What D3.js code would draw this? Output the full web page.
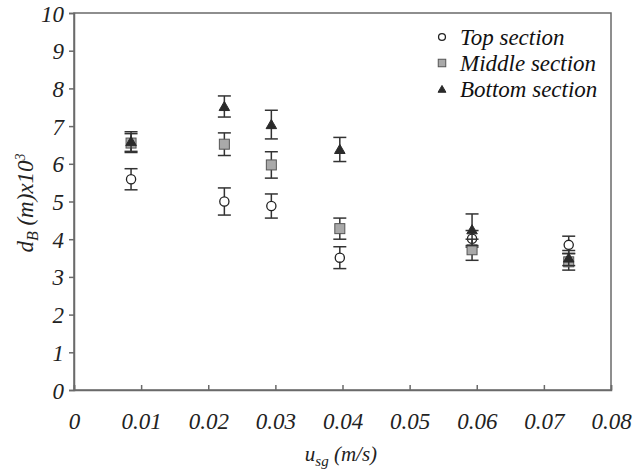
<!DOCTYPE html>
<html><head><meta charset="utf-8">
<script src="https://cdn.jsdelivr.net/npm/d3@7"></script>
<style>body{margin:0;background:#fff}svg{display:block}</style>
</head><body><svg id="c" width="634" height="472"></svg>
<script>
const xVals = [0.0085, 0.0224, 0.0294, 0.0396, 0.0593, 0.0737];
const topVals = [5.59, 5.0, 4.88, 3.51, 4.01, 3.85];
const topErr = [0.28, 0.36, 0.32, 0.29, 0.22, 0.23];
const midVals = [6.55, 6.52, 5.97, 4.28, 3.72, 3.40];
const midErr = [0.25, 0.30, 0.35, 0.28, 0.28, 0.22];
const botVals = [6.59, 7.52, 7.04, 6.38, 4.25, 3.50];
const botErr = [0.26, 0.28, 0.38, 0.32, 0.42, 0.20];
const xTicks = [0, 0.01, 0.02, 0.03, 0.04, 0.05, 0.06, 0.07, 0.08];
const xTickLabels = ["0", "0.01", "0.02", "0.03", "0.04", "0.05", "0.06", "0.07", "0.08"];
const yTicks = [0,1,2,3,4,5,6,7,8,9,10];
const seriesNames = ["Top section", "Middle section", "Bottom section"];

const svg = d3.select("#c");
const L = 74, R = 611, T = 13, B = 390;
const x = d3.scaleLinear().domain([0, 0.08]).range([L, R]);
const y = d3.scaleLinear().domain([0, 10]).range([B, T]);
const axisCol = "#6a6a6a";
const FONT = "Liberation Serif";

svg.append("rect").attr("x", L).attr("y", T).attr("width", R - L).attr("height", B - T)
  .attr("fill", "none").attr("stroke", axisCol).attr("stroke-width", 1.5);

const ya = svg.append("g").attr("transform", `translate(${L},0)`)
  .call(d3.axisLeft(y).tickValues(yTicks).tickSize(5).tickPadding(5).tickFormat(d3.format("d")));
const xa = svg.append("g").attr("transform", `translate(0,${B})`)
  .call(d3.axisBottom(x).tickValues(xTicks).tickSize(-5).tickPadding(0).tickFormat((d, i) => xTickLabels[i]));
[ya, xa].forEach(g => {
  g.attr("font-family", null).attr("font-size", null);
  g.select(".domain").attr("stroke", axisCol).attr("stroke-width", 1.5);
  g.selectAll(".tick line").attr("stroke", axisCol).attr("stroke-width", 1.5);
  g.selectAll("text").attr("font-family", FONT).attr("font-style", "italic")
    .attr("font-size", 23).attr("fill", "#222");
});
xa.selectAll("text").attr("y", 23).attr("dy", "0.71em");
ya.selectAll("text").attr("dy", "0.35em");

const xt = svg.append("text").attr("x", 341).attr("y", 461).attr("text-anchor", "middle")
  .attr("font-family", FONT).attr("font-style", "italic").attr("font-size", 21).attr("fill", "#222");
xt.append("tspan").text("u");
xt.append("tspan").text("sg").attr("font-size", 15).attr("dy", 5);
xt.append("tspan").text(" (m/s)").attr("dy", -5);

const yt = svg.append("text").attr("transform", "translate(33,203) rotate(-90)")
  .attr("text-anchor", "middle").attr("font-family", FONT).attr("font-style", "italic")
  .attr("font-size", 23).attr("fill", "#222");
yt.append("tspan").text("d");
yt.append("tspan").text("B").attr("font-size", 16).attr("dy", 5);
yt.append("tspan").text(" (m)x10").attr("dy", -5);
yt.append("tspan").text("3").attr("font-size", 14).attr("dy", -8);

const series = [
  {vals: topVals, err: topErr, shape: "circle"},
  {vals: midVals, err: midErr, shape: "square"},
  {vals: botVals, err: botErr, shape: "triangle"}
];
const cap = 6.5;
const errCol = "#333";
function drawMarker(g, shape, cx, cy, s) {
  if (shape === "circle") {
    g.append("circle").attr("cx", cx).attr("cy", cy).attr("r", 4.6 * s)
      .attr("fill", "#fff").attr("stroke", "#222").attr("stroke-width", 1.3);
  } else if (shape === "square") {
    const h = 5 * s;
    g.append("rect").attr("x", cx - h).attr("y", cy - h).attr("width", 2 * h).attr("height", 2 * h)
      .attr("fill", "#a9a9a9").attr("stroke", "#555").attr("stroke-width", 1);
  } else {
    g.append("path").attr("d", d3.symbol(d3.symbolTriangle, 48 * s * s)()).attr("transform", `translate(${cx},${cy + 1})`)
      .attr("fill", "#2a2a2a").attr("stroke", "#2a2a2a").attr("stroke-width", 1);
  }
}
series.forEach(s => {
  const g = svg.append("g");
  xVals.forEach((xv, i) => {
    const cx = x(xv), v = s.vals[i], e = s.err[i];
    g.append("line").attr("x1", cx).attr("x2", cx).attr("y1", y(v + e)).attr("y2", y(v - e))
      .attr("stroke", errCol).attr("stroke-width", 1.5);
    [v + e, v - e].forEach(w => g.append("line").attr("x1", cx - cap).attr("x2", cx + cap)
      .attr("y1", y(w)).attr("y2", y(w)).attr("stroke", errCol).attr("stroke-width", 1.5));
    drawMarker(g, s.shape, cx, y(v), 1);
  });
});

const leg = svg.append("g");
seriesNames.forEach((n, i) => {
  const ly = 37 + i * 26;
  drawMarker(leg, series[i].shape, 442, ly, 0.75);
  leg.append("text").attr("x", 460).attr("y", ly).attr("dy", "0.35em")
    .attr("font-family", FONT).attr("font-style", "italic")
    .attr("font-size", 23).attr("fill", "#111").text(n);
});
</script></body></html>
